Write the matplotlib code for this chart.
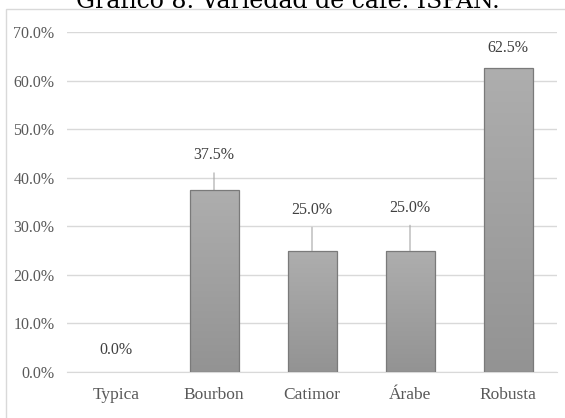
import numpy as np
import matplotlib
matplotlib.use("Agg")
import matplotlib.pyplot as plt
from matplotlib.colors import LinearSegmentedColormap
from matplotlib.patches import Rectangle

# data
variedades = ["Typica", "Bourbon", "Catimor", "Árabe", "Robusta"]
porcentajes = [0.0, 37.5, 25.0, 25.0, 62.5]
etiquetas = ["0.0%", "37.5%", "25.0%", "25.0%", "62.5%"]
yticks = [0, 10, 20, 30, 40, 50, 60, 70]

# label offsets (points above bar top) and whether a leader line is drawn
offsets = [16, 25, 29.5, 31, 14.5]
leader = [False, True, True, True, False]

plt.rcParams["font.family"] = ["Liberation Serif", "DejaVu Serif"]

fig = plt.figure(figsize=(5.65, 4.18), dpi=100)
ax = fig.add_axes([67 / 565, 46 / 418, 490 / 565, 340 / 418])

# outer chart border
fig.patches.append(Rectangle((6 / 565, -0.05), 1.0, 1 - 9 / 418 + 0.05,
                             transform=fig.transFigure, fill=False,
                             edgecolor="#d9d9d9", lw=1.0, zorder=0))

x = np.arange(len(variedades))
bars = ax.bar(x, porcentajes, width=0.5, color="#a0a0a0",
              linewidth=0, zorder=3)

# vertical gradient fill like the original
cmap = LinearSegmentedColormap.from_list("g", ["#939393", "#aeaeae"])
grad = np.linspace(0, 1, 256).reshape(-1, 1)
for b in bars:
    if b.get_height() <= 0:
        continue
    x0 = b.get_x()
    im = ax.imshow(grad, extent=[x0, x0 + b.get_width(), 0, b.get_height()],
                   origin="lower", cmap=cmap, aspect="auto", zorder=3.5)
    im.set_clip_path(b)
    ax.add_patch(Rectangle((x0, 0), b.get_width(), b.get_height(),
                           fill=False, edgecolor="#7a7a7a", lw=0.9, zorder=4))

for i, (v, t) in enumerate(zip(porcentajes, etiquetas)):
    kw = {}
    if leader[i]:
        kw["arrowprops"] = dict(arrowstyle="-", color="#a6a6a6", lw=0.8,
                                shrinkA=5, shrinkB=0)
    ax.annotate(t, xy=(i, v), xytext=(0, offsets[i]),
                textcoords="offset points", ha="center", va="center",
                fontsize=11.5, color="#404040", **kw)

ax.set_xlim(-0.5, 4.5)
ax.set_ylim(0, 70)
ax.set_yticks(yticks)
ax.set_yticklabels([f"{t:.1f}%" for t in yticks])
ax.set_xticks(x)
ax.set_xticklabels(variedades)
ax.tick_params(axis="both", length=0, labelsize=11.5, colors="#595959")
ax.tick_params(axis="x", labelsize=12.5, pad=11)
ax.tick_params(axis="y", pad=9)
ax.grid(axis="y", color="#d9d9d9", lw=1.0, zorder=0)
ax.set_axisbelow(True)
for s in ["top", "right", "left"]:
    ax.spines[s].set_visible(False)
ax.spines["bottom"].set_color("#d9d9d9")

fig.text(0.51, 1 - 8 / 418, "Gráfico 8. Variedad de café. ISPAN.",
         ha="center", va="baseline", fontsize=17, color="black",
         family=["DejaVu Serif"])

fig.savefig("out.png", dpi=100)
